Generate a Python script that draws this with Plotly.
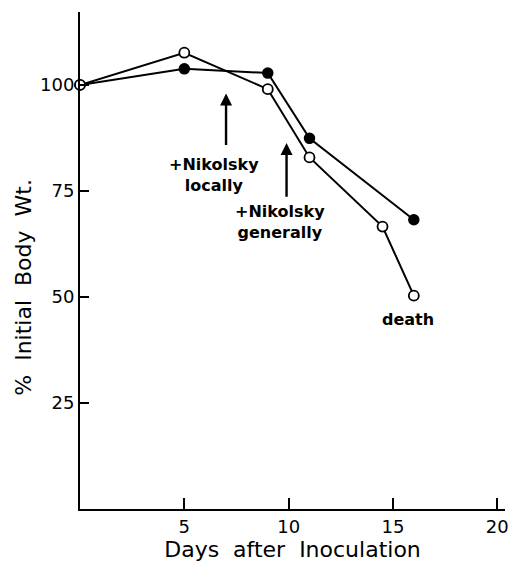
import plotly.graph_objects as go

days_open = [0, 5, 9, 11, 14.5, 16]
wt_open = [100, 107.6, 99.0, 82.9, 66.6, 50.3]
days_filled = [0, 5, 9, 11, 16]
wt_filled = [100, 103.8, 102.8, 87.4, 68.2]

x_ticks = [5, 10, 15, 20]
y_ticks = [25, 50, 75, 100]

FONT = "DejaVu Sans"

fig = go.Figure()
fig.add_trace(go.Scatter(x=days_filled, y=wt_filled, mode="lines+markers",
                         line=dict(color="black", width=2),
                         marker=dict(symbol="circle", size=10, color="black",
                                     line=dict(color="black", width=1.5)),
                         showlegend=False, cliponaxis=False))
fig.add_trace(go.Scatter(x=days_open, y=wt_open, mode="lines+markers",
                         line=dict(color="black", width=2),
                         marker=dict(symbol="circle", size=10, color="white",
                                     line=dict(color="black", width=1.8)),
                         showlegend=False, cliponaxis=False))

# arrows
fig.add_annotation(x=7, y=98, ax=7, ay=85.5, xref="x", yref="y", axref="x", ayref="y",
                   showarrow=True, arrowhead=2, arrowsize=1, arrowwidth=2.4,
                   arrowcolor="black", text="")
fig.add_annotation(x=9.9, y=86.3, ax=9.9, ay=73.3, xref="x", yref="y", axref="x", ayref="y",
                   showarrow=True, arrowhead=2, arrowsize=1, arrowwidth=2.4,
                   arrowcolor="black", text="")

ann_font = dict(family=FONT, size=16, color="black", weight="bold")
fig.add_annotation(x=6.4, y=78.8, text="+Nikolsky<br>locally", showarrow=False,
                   align="center", font=ann_font)
fig.add_annotation(x=9.6, y=67.7, text="+Nikolsky<br>generally", showarrow=False,
                   align="center", font=ann_font)
fig.add_annotation(x=15.7, y=44.8, text="death", showarrow=False, font=ann_font)

# y-axis title (placed as in the reference, slightly below the axis centre)
fig.add_annotation(xref="paper", yref="paper", x=-0.132, y=0.447,
                   xanchor="center", yanchor="middle",
                   text="%  Initial  Body  Wt.", textangle=-90, showarrow=False,
                   font=dict(family=FONT, size=22, color="black"))

fig.update_layout(
    width=512, height=572,
    margin=dict(l=80, r=7, t=12, b=63),
    plot_bgcolor="white", paper_bgcolor="white",
    font=dict(family=FONT, size=18, color="black"),
    xaxis=dict(range=[0, 20.37], tickvals=x_ticks, ticks="inside", ticklen=11,
               tickwidth=2, tickcolor="black", showline=True, linecolor="black",
               linewidth=2, showgrid=False, zeroline=False, automargin=False,
               title=dict(text="Days  after  Inoculation", font=dict(size=22), standoff=6)),
    yaxis=dict(range=[0, 117.2], tickvals=y_ticks, ticks="inside", ticklen=9,
               tickwidth=2, tickcolor="black", showline=True, linecolor="black",
               linewidth=2, showgrid=False, zeroline=False, automargin=False),
)

fig.write_html("out.html", config={"displayModeBar": False},
               post_script="document.body.style.margin='0';")
